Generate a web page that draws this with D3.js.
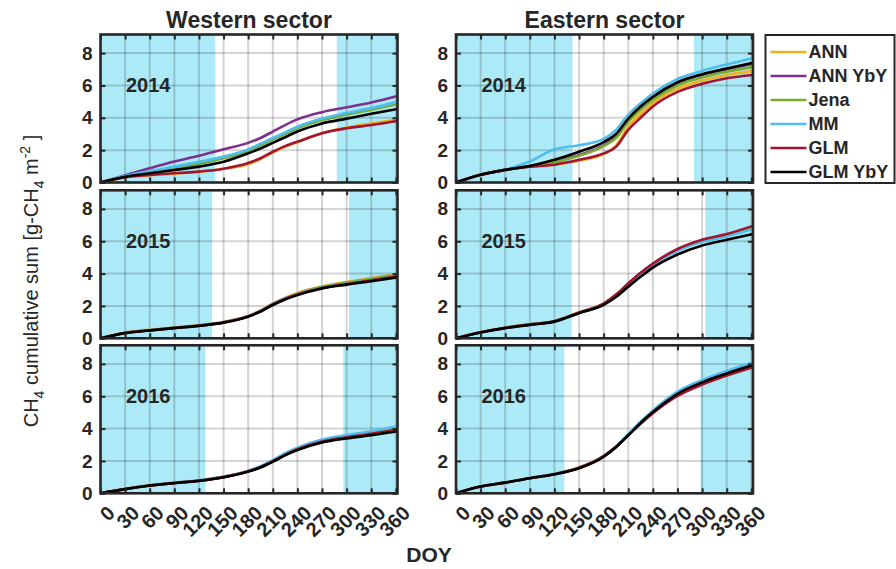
<!DOCTYPE html>
<html>
<head>
<meta charset="utf-8">
<script src="https://cdn.jsdelivr.net/npm/d3@7"></script>
<style>
  body { margin: 0; background: #fff; }
  text { font-family: "Liberation Sans", Arial, sans-serif; fill: #262626; }
</style>
</head>
<body>
<div id="chart"></div>
<script>
// sample days (DOY) shared by every curve
var days = [0, 30, 60, 90, 120, 150, 180, 195, 210, 225, 240, 270, 300, 330, 362]

var seriesNames = ["ANN", "ANN YbY", "Jena", "MM", "GLM", "GLM YbY"]
var seriesColors = ["#EDB120", "#7E2F8E", "#77AC30", "#4DBEEE", "#A2142F", "#000000"]

var sectors = ["Western sector", "Eastern sector"]
var years = ["2014", "2015", "2016"]
var xTickValues = [0, 30, 60, 90, 120, 150, 180, 210, 240, 270, 300, 330, 360]
var yTickValues = [0, 2, 4, 6, 8]

// shaded (cold season) periods [end of first, start of second]
var westShade = [[140, 288], [136, 303], [128, 296]]
var eastShade = [[142, 290], [141, 304], [132, 298]]

// cumulative CH4, one row per series in seriesNames order
var west2014 = [
  [0, 0.30, 0.45, 0.55, 0.66, 0.85, 1.12, 1.45, 1.85, 2.20, 2.50, 3.05, 3.40, 3.65, 3.90],
  [0, 0.45, 0.88, 1.30, 1.65, 2.05, 2.45, 2.75, 3.15, 3.55, 3.90, 4.35, 4.65, 4.95, 5.35],
  [0, 0.38, 0.62, 0.90, 1.15, 1.50, 1.95, 2.30, 2.65, 3.00, 3.35, 3.85, 4.20, 4.50, 4.85],
  [0, 0.40, 0.70, 0.98, 1.28, 1.60, 2.05, 2.40, 2.75, 3.10, 3.45, 3.95, 4.30, 4.60, 5.00],
  [0, 0.32, 0.46, 0.57, 0.67, 0.85, 1.20, 1.50, 1.90, 2.25, 2.52, 3.05, 3.35, 3.55, 3.80],
  [0, 0.36, 0.57, 0.77, 0.98, 1.28, 1.80, 2.10, 2.45, 2.80, 3.15, 3.65, 3.95, 4.25, 4.55]
]
var east2014 = [
  [0, 0.48, 0.78, 1.00, 1.10, 1.35, 1.75, 2.30, 3.45, 4.25, 4.90, 5.80, 6.30, 6.65, 6.90],
  [0, 0.48, 0.78, 1.02, 1.30, 1.70, 2.30, 2.85, 3.90, 4.65, 5.25, 6.15, 6.65, 7.00, 7.35],
  [0, 0.48, 0.78, 1.00, 1.25, 1.65, 2.25, 2.75, 3.75, 4.50, 5.10, 6.00, 6.50, 6.85, 7.15],
  [0, 0.48, 0.80, 1.30, 2.05, 2.30, 2.70, 3.25, 4.20, 4.90, 5.50, 6.40, 6.90, 7.30, 7.70],
  [0, 0.48, 0.78, 0.98, 1.10, 1.40, 1.80, 2.20, 3.25, 4.00, 4.70, 5.60, 6.10, 6.45, 6.65],
  [0, 0.48, 0.78, 1.02, 1.40, 1.90, 2.50, 3.00, 3.95, 4.70, 5.30, 6.20, 6.70, 7.05, 7.40]
]
var west2015 = [
  [0, 0.36, 0.52, 0.67, 0.80, 1.00, 1.38, 1.72, 2.15, 2.50, 2.80, 3.20, 3.48, 3.72, 3.98],
  [0, 0.33, 0.50, 0.65, 0.78, 0.98, 1.36, 1.68, 2.10, 2.45, 2.72, 3.12, 3.38, 3.60, 3.85],
  [0, 0.34, 0.50, 0.66, 0.80, 1.00, 1.38, 1.70, 2.12, 2.48, 2.76, 3.18, 3.45, 3.68, 3.94],
  [0, 0.33, 0.49, 0.64, 0.78, 0.98, 1.36, 1.68, 2.12, 2.46, 2.73, 3.13, 3.38, 3.60, 3.85],
  [0, 0.33, 0.49, 0.64, 0.78, 0.98, 1.35, 1.67, 2.09, 2.44, 2.71, 3.11, 3.36, 3.58, 3.83],
  [0, 0.32, 0.48, 0.63, 0.77, 0.97, 1.34, 1.65, 2.06, 2.40, 2.67, 3.08, 3.32, 3.53, 3.77]
]
var east2015 = [
  [0, 0.37, 0.65, 0.86, 1.06, 1.59, 2.13, 2.68, 3.36, 4.00, 4.58, 5.46, 6.02, 6.38, 6.85],
  [0, 0.37, 0.64, 0.85, 1.05, 1.58, 2.12, 2.66, 3.35, 4.00, 4.57, 5.45, 6.00, 6.36, 6.82],
  [0, 0.37, 0.65, 0.86, 1.06, 1.60, 2.14, 2.68, 3.37, 4.02, 4.60, 5.48, 6.05, 6.40, 6.88],
  [0, 0.36, 0.64, 0.85, 1.05, 1.58, 2.12, 2.65, 3.32, 3.95, 4.52, 5.40, 5.95, 6.30, 6.75],
  [0, 0.37, 0.65, 0.86, 1.06, 1.60, 2.15, 2.70, 3.40, 4.05, 4.62, 5.52, 6.09, 6.45, 6.95],
  [0, 0.36, 0.63, 0.83, 1.03, 1.55, 2.06, 2.55, 3.18, 3.80, 4.37, 5.18, 5.74, 6.09, 6.45]
]
var west2016 = [
  [0, 0.28, 0.50, 0.65, 0.80, 1.02, 1.38, 1.65, 2.02, 2.42, 2.75, 3.24, 3.50, 3.72, 4.00],
  [0, 0.26, 0.48, 0.64, 0.78, 1.00, 1.36, 1.62, 1.98, 2.38, 2.70, 3.18, 3.44, 3.65, 3.90],
  [0, 0.27, 0.49, 0.65, 0.79, 1.01, 1.37, 1.64, 2.01, 2.42, 2.76, 3.26, 3.53, 3.77, 4.05],
  [0, 0.27, 0.50, 0.66, 0.80, 1.03, 1.40, 1.68, 2.05, 2.48, 2.82, 3.32, 3.60, 3.84, 4.15],
  [0, 0.26, 0.48, 0.64, 0.78, 1.00, 1.36, 1.62, 1.98, 2.38, 2.72, 3.20, 3.46, 3.68, 3.95],
  [0, 0.26, 0.48, 0.63, 0.77, 0.99, 1.34, 1.60, 1.95, 2.35, 2.67, 3.14, 3.39, 3.59, 3.83]
]
var east2016 = [
  [0, 0.42, 0.66, 0.93, 1.19, 1.60, 2.32, 2.90, 3.62, 4.38, 5.05, 6.15, 6.85, 7.40, 7.92],
  [0, 0.42, 0.66, 0.93, 1.18, 1.56, 2.27, 2.86, 3.60, 4.36, 5.03, 6.12, 6.82, 7.38, 7.90],
  [0, 0.42, 0.67, 0.94, 1.19, 1.57, 2.29, 2.89, 3.63, 4.40, 5.08, 6.20, 6.92, 7.48, 8.02],
  [0, 0.42, 0.67, 0.94, 1.20, 1.58, 2.30, 2.90, 3.65, 4.42, 5.12, 6.28, 7.00, 7.56, 8.10],
  [0, 0.42, 0.66, 0.93, 1.18, 1.58, 2.30, 2.88, 3.58, 4.30, 4.95, 6.02, 6.72, 7.28, 7.80],
  [0, 0.42, 0.66, 0.93, 1.18, 1.55, 2.26, 2.85, 3.59, 4.35, 5.02, 6.15, 6.86, 7.41, 7.93]
]

var panels = [[west2014, east2014], [west2015, east2015], [west2016, east2016]]
var shades = [westShade, eastShade]

// layout
var colX = [100.5, 456], panelW = 297
var rowY = [34.5, 190.3, 345.3], panelH = 148
var frameColor = "#262626"

var svg = d3.select("#chart")
  .append("svg")
    .attr("width", 896)
    .attr("height", 569)

var x = d3.scaleLinear().domain([0, 362]).range([0, panelW])
var y = d3.scaleLinear().domain([0, 9.15]).range([panelH, 0])

var line = d3.line()
  .x(function(d, i) { return x(days[i]) })
  .y(function(d) { return y(d) })
  .curve(d3.curveMonotoneX)

function drawPanel(r, c) {
  var g = svg.append("g")
    .attr("transform", "translate(" + colX[c] + "," + rowY[r] + ")")
  var sh = shades[c][r]

  // cold season shading
  g.append("rect").attr("x", x(0)).attr("y", 0)
    .attr("width", x(sh[0]) - x(0)).attr("height", panelH)
    .attr("fill", "#aceaf7")
  g.append("rect").attr("x", x(sh[1])).attr("y", 0)
    .attr("width", x(362) - x(sh[1])).attr("height", panelH)
    .attr("fill", "#aceaf7")

  // grid
  g.selectAll(".vgrid")
    .data(xTickValues.filter(function(d) { return d > 0 }))
    .enter().append("line")
      .attr("x1", function(d) { return x(d) }).attr("x2", function(d) { return x(d) })
      .attr("y1", 0).attr("y2", panelH)
      .attr("stroke", "#000").attr("stroke-opacity", 0.17).attr("stroke-width", 2)
  g.selectAll(".hgrid")
    .data(yTickValues.filter(function(d) { return d > 0 }))
    .enter().append("line")
      .attr("x1", 0).attr("x2", panelW)
      .attr("y1", function(d) { return y(d) }).attr("y2", function(d) { return y(d) })
      .attr("stroke", "#000").attr("stroke-opacity", 0.17).attr("stroke-width", 2)

  // series
  panels[r][c].forEach(function(vals, k) {
    g.append("path")
      .attr("d", line(vals))
      .attr("fill", "none")
      .attr("stroke", seriesColors[k])
      .attr("stroke-width", 2.6)
      .attr("stroke-linejoin", "round")
  })

  // year label
  g.append("text")
    .attr("x", x(31)).attr("y", y(5.57))
    .text(years[r])
    .style("font-size", "20px").style("font-weight", "bold")

  // axes with inward ticks
  var axB = g.append("g")
    .attr("transform", "translate(0," + panelH + ")")
    .call(d3.axisBottom(x).tickValues(xTickValues).tickSize(-5).tickPadding(0))
  var axT = g.append("g")
    .call(d3.axisTop(x).tickValues(xTickValues).tickSize(-5).tickFormat(""))
  var axL = g.append("g")
    .call(d3.axisLeft(y).tickValues(yTickValues).tickSize(-5).tickPadding(8))
  var axR = g.append("g")
    .attr("transform", "translate(" + panelW + ",0)")
    .call(d3.axisRight(y).tickValues(yTickValues).tickSize(-5).tickFormat(""))

  ;[axB, axT, axL, axR].forEach(function(a) {
    a.select(".domain").remove()
    a.selectAll("line").attr("stroke", frameColor).attr("stroke-width", 2)
  })

  axL.selectAll("text")
    .style("font-size", "19px").style("font-weight", "bold")
    .attr("fill", frameColor)

  if (r == 2) {
    axB.selectAll("text")
      .attr("x", 0).attr("y", 0).attr("dy", 0)
      .attr("text-anchor", "end")
      .attr("transform", "translate(15,21) rotate(-45)")
      .style("font-size", "20px").style("font-weight", "bold")
      .attr("fill", frameColor)
  } else {
    axB.selectAll("text").remove()
  }

  // frame
  g.append("rect")
    .attr("x", 0).attr("y", 0).attr("width", panelW).attr("height", panelH)
    .attr("fill", "none").attr("stroke", frameColor).attr("stroke-width", 2.6)

  if (r == 0) {
    svg.append("text")
      .attr("x", colX[c] + panelW / 2).attr("y", 28)
      .attr("text-anchor", "middle")
      .text(sectors[c])
      .style("font-size", "23px").style("font-weight", "bold")
      .attr("fill", "#000")
  }
}

for (let r = 0; r < 3; r++) {
  for (let c = 0; c < 2; c++) {
    drawPanel(r, c)
  }
}

// x axis title
svg.append("text")
  .attr("x", 429).attr("y", 562)
  .attr("text-anchor", "middle")
  .text("DOY")
  .style("font-size", "21px").style("font-weight", "bold")

// y axis title
var yl = svg.append("text")
  .attr("transform", "translate(38,281) rotate(-90)")
  .attr("text-anchor", "middle")
  .style("font-size", "20px")
yl.append("tspan").text("CH")
yl.append("tspan").attr("dy", 6).style("font-size", "14px").text("4")
yl.append("tspan").attr("dy", -6).text(" cumulative sum [g-CH")
yl.append("tspan").attr("dy", 6).style("font-size", "14px").text("4")
yl.append("tspan").attr("dy", -6).text(" m")
yl.append("tspan").attr("dy", -8).style("font-size", "14px").text("-2")
yl.append("tspan").attr("dy", 8).text(" ]")

// legend
var legend = svg.append("g").attr("transform", "translate(765.5,35)")
legend.append("rect")
  .attr("width", 129).attr("height", 148)
  .attr("fill", "#fff").attr("stroke", frameColor).attr("stroke-width", 2)
seriesNames.forEach(function(name, i) {
  var yy = 17 + i * 24
  legend.append("line")
    .attr("x1", 5).attr("x2", 41).attr("y1", yy).attr("y2", yy)
    .attr("stroke", seriesColors[i]).attr("stroke-width", 2.6)
  legend.append("text")
    .attr("x", 43).attr("y", yy).attr("dy", "0.35em")
    .text(name)
    .style("font-size", "18px").style("font-weight", "bold")
    .attr("fill", "#000")
})
</script>
</body>
</html>
